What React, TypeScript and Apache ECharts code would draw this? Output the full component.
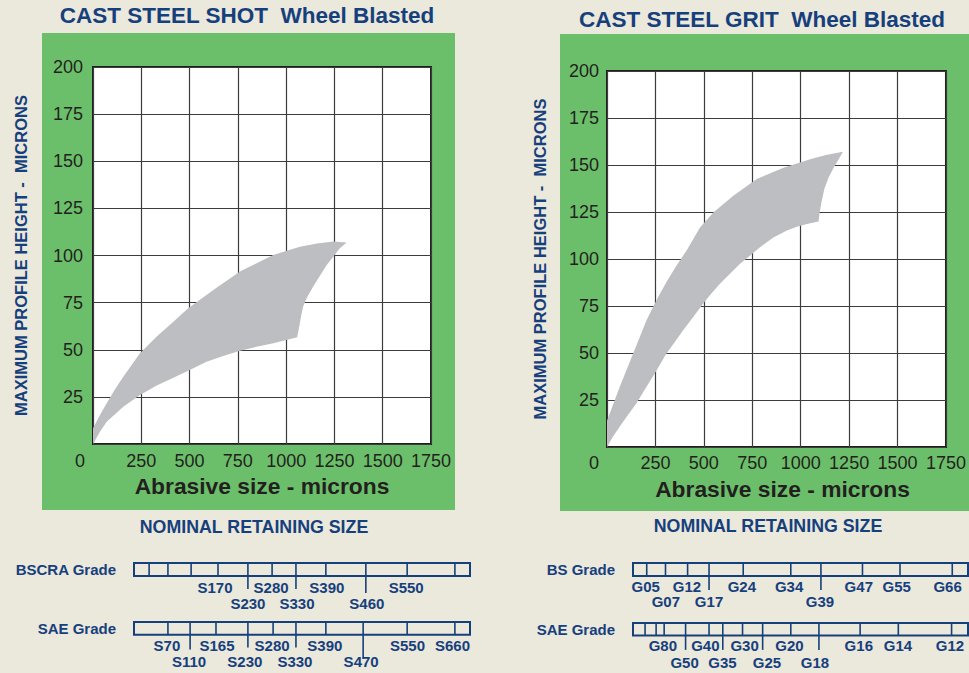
import React, { useEffect, useRef } from 'react';
import * as echarts from 'echarts';

// ---------- colours / fonts ----------
const BLUE = '#16407c';
const GREEN = '#6cbf6a';
const BEIGE = '#ebe8dc';
const AREA = '#bdbec2';
const INK = '#231f20';
const NARROW = '"Liberation Sans Narrow", "Liberation Sans", Arial, sans-serif';
const SANS = '"Liberation Sans", Arial, Helvetica, sans-serif';

// ---------- axis data ----------
const xMin = 0;
const xMax = 1750;
const xStep = 250;
const yMin = 0;
const yMax = 200;
const yStep = 25;

// ---------- cast steel shot envelope (abrasive size µm, profile height µm) ----------
const shotUpper = [
  [0, 0], [0, 8.3], [36, 15.4], [71, 21.6], [114, 29], [157, 35.7], [243, 48.1], [330, 57],
  [416, 64.9], [493, 72], [623, 81.7], [761, 91.5], [847, 95.9], [933, 100.3], [1071, 104.7],
  [1160, 106.3], [1244, 107.4], [1313, 106.9],
];
const shotRightEdge = [
  [1278, 103.9], [1244, 99.4], [1210, 95], [1175, 89.3], [1140, 83.5], [1106, 77.3],
  [1088, 72.9], [1077, 67.6], [1068, 62.3], [1057, 56.6],
];
const shotLower = [
  [933, 53.4], [847, 51.6], [761, 49.5], [674, 46.7], [588, 43.7], [493, 38.9], [416, 35.2],
  [330, 31], [243, 26], [157, 19.8], [71, 11.8], [36, 6.5],
];

// ---------- cast steel grit envelope ----------
const gritUpper = [
  [0, 0], [0, 14], [66, 32.1], [135, 49.8], [204, 67.4], [264, 79.8], [307, 87.7], [359, 96.6],
  [411, 104.5], [480, 116.8], [549, 124.8], [652, 133.6], [773, 142.5], [911, 148.6],
  [1049, 153], [1130, 155.3], [1218, 157.1],
];
const gritRightEdge = [
  [1196, 153.1], [1170, 148.6], [1144, 143.3], [1122, 137.2], [1107, 130.1], [1098, 124.8],
  [1092, 120],
];
const gritLower = [
  [1032, 118.6], [980, 117.2], [929, 115.1], [859, 111.5], [790, 106.3], [739, 101.9],
  [687, 97.5], [635, 92.2], [583, 86.9], [531, 80.7], [497, 76.3], [445, 69.2], [393, 62.1],
  [350, 55.9], [307, 49.8], [247, 39.2], [204, 32.1], [152, 23.3], [109, 17.1], [66, 10.9],
  [31, 5.6],
];

// ---------- grade scales (position along bar, 0-100) ----------
const bscraDividers = [4.5, 10.1, 17, 25, 33.9, 41.1, 48.2, 57.1, 69, 81.3, 95.5];
const bscraLongTicks = [[33.9, -1.0], [48.2, -1.0], [69, -1.3]];
const bscraLabels: [string, number, number][] = [
  ['S170', 24.1, -0.85], ['S280', 40.8, -0.85], ['S390', 57.4, -0.85], ['S550', 81, -0.85],
  ['S230', 33.9, -2.15], ['S330', 48.5, -2.15], ['S460', 69.3, -2.15],
];

const saeShotDividers = [10.1, 16.7, 24.4, 33.9, 41.4, 48.2, 57.1, 68.2, 81.3, 95.5];
const saeShotLongTicks = [[16.7, -1.15], [33.9, -1.0], [48.2, -1.0], [68.2, -1.9]];
const saeShotLabels: [string, number, number][] = [
  ['S70', 9.8, -0.82], ['S165', 24.7, -0.82], ['S280', 41.1, -0.82], ['S390', 56.8, -0.82],
  ['S550', 81.4, -0.82], ['S660', 94.8, -0.82],
  ['S110', 16.4, -2.13], ['S230', 33, -2.13], ['S330', 47.9, -2.13], ['S470', 67.6, -2.13],
];

const bsGritDividers = [4.1, 9.7, 16.3, 22.7, 32.9, 47.1, 56.1, 68.5, 79.7, 95.3];
const bsGritLongTicks = [[22.7, -1.08], [56.1, -1.08]];
const bsGritLabels: [string, number, number][] = [
  ['G05', 3.8, -0.77], ['G12', 16.1, -0.77], ['G24', 32.5, -0.77], ['G34', 46.6, -0.77],
  ['G47', 67.4, -0.77], ['G55', 78.7, -0.77], ['G66', 93.9, -0.77],
  ['G07', 9.8, -1.98], ['G17', 22.7, -1.98], ['G39', 55.8, -1.98],
];

const saeGritDividers = [3.6, 6.9, 9.3, 15.7, 22.7, 26.8, 32.7, 38.7, 47.1, 55.5, 67.8, 79.2, 95.1];
const saeGritLongTicks = [[15.7, -1.15], [26.8, -1.15], [38.7, -1.15], [55.5, -1.15]];
const saeGritLabels: [string, number, number][] = [
  ['G80', 8.9, -0.82], ['G40', 21.6, -0.82], ['G30', 33.3, -0.82], ['G20', 46.7, -0.82],
  ['G16', 67.4, -0.82], ['G14', 79.1, -0.82], ['G12', 94.6, -0.82],
  ['G50', 15.4, -2.18], ['G35', 26.7, -2.18], ['G25', 40, -2.18], ['G18', 54.3, -2.18],
];

// ---------- builders ----------
function envelopeSeries(gi: number, upper: number[][], edge: number[][], lower: number[][]) {
  const pts = [...upper, ...edge, ...lower];
  return {
    type: 'custom',
    xAxisIndex: gi,
    yAxisIndex: gi,
    data: [0],
    silent: true,
    z: 3,
    renderItem: (_params: any, api: any) => ({
      type: 'polygon',
      shape: { points: pts.map((p) => api.coord(p)) },
      style: { fill: AREA, stroke: 'none' },
    }),
  };
}

function gradeSeries(
  gi: number,
  name: string,
  dividers: number[],
  longTicks: number[][],
  labels: [string, number, number][],
) {
  return {
    type: 'custom',
    xAxisIndex: gi,
    yAxisIndex: gi,
    data: [0],
    silent: true,
    renderItem: (_params: any, api: any) => {
      const c = (x: number, y: number) => api.coord([x, y]);
      const children: any[] = [];
      const tl = c(0, 1);
      const br = c(100, 0);
      children.push({
        type: 'rect',
        shape: { x: tl[0], y: tl[1], width: br[0] - tl[0], height: br[1] - tl[1] },
        style: { fill: 'none', stroke: BLUE, lineWidth: 2 },
      });
      dividers.forEach((d) => {
        const a = c(d, 1);
        const b = c(d, 0);
        children.push({
          type: 'line',
          shape: { x1: a[0], y1: a[1], x2: b[0], y2: b[1] },
          style: { stroke: BLUE, lineWidth: 1.6 },
        });
      });
      longTicks.forEach(([d, len]) => {
        const a = c(d, 0);
        const b = c(d, len);
        children.push({
          type: 'line',
          shape: { x1: a[0], y1: a[1], x2: b[0], y2: b[1] },
          style: { stroke: BLUE, lineWidth: 1.6 },
        });
      });
      labels.forEach(([t, x, y]) => {
        const p = c(x, y);
        children.push({
          type: 'text',
          x: p[0],
          y: p[1],
          style: {
            text: t, fill: BLUE, font: `bold 15px ${SANS}`,
            textAlign: 'center', textVerticalAlign: 'middle', align: 'center', verticalAlign: 'middle',
          },
        });
      });
      const lp = c(0, 0.5);
      children.push({
        type: 'text',
        x: lp[0] - 18,
        y: lp[1],
        style: {
          text: name, fill: BLUE, font: `bold 15px ${SANS}`,
          textAlign: 'right', textVerticalAlign: 'middle', align: 'right', verticalAlign: 'middle',
        },
      });
      return { type: 'group', children };
    },
  };
}

function mainXAxis(gi: number, labelMargin: number, namePadLeft: number) {
  return {
    gridIndex: gi,
    type: 'value',
    min: xMin,
    max: xMax,
    interval: xStep,
    name: 'Abrasive size - microns',
    nameLocation: 'middle',
    nameGap: 30,
    nameTextStyle: {
      color: INK, fontSize: 22.8, fontWeight: 'bold', fontFamily: SANS,
      padding: [0, 0, 0, namePadLeft],
    },
    axisLine: { show: false },
    axisTick: { show: false },
    splitLine: { show: true, lineStyle: { color: '#3c3c3c', width: 1.2 } },
    axisLabel: {
      margin: labelMargin,
      color: INK,
      fontSize: 18,
      fontFamily: NARROW,
      formatter: (v: number) => (v === 0 ? '{z|0}' : String(v)),
      rich: { z: { padding: [0, 26, 0, 0], fontSize: 18, fontFamily: NARROW, color: INK } },
    },
  };
}

function mainYAxis(gi: number, labelMargin: number, nameGap: number) {
  return {
    gridIndex: gi,
    type: 'value',
    min: yMin,
    max: yMax,
    interval: yStep,
    name: 'MAXIMUM PROFILE HEIGHT -  MICRONS',
    nameLocation: 'middle',
    nameRotate: 90,
    nameGap,
    nameTextStyle: { color: BLUE, fontSize: 16.5, fontWeight: 'bold', fontFamily: SANS },
    axisLine: { show: false },
    axisTick: { show: false },
    splitLine: { show: true, lineStyle: { color: '#3c3c3c', width: 1.2 } },
    axisLabel: {
      margin: labelMargin,
      color: INK,
      fontSize: 18,
      fontFamily: NARROW,
      formatter: (v: number) => (v === 0 ? '' : String(v)),
    },
  };
}

function hiddenX(gi: number) {
  return { gridIndex: gi, type: 'value', min: 0, max: 100, show: false };
}
function hiddenY(gi: number) {
  return { gridIndex: gi, type: 'value', min: -3, max: 1, show: false };
}

function textEl(text: string, x: number, y: number, font: string, fill: string) {
  return {
    type: 'text',
    x,
    y,
    style: { text, font, fill, textAlign: 'center', textVerticalAlign: 'middle' },
  };
}

export default function App() {
  const ref = useRef<HTMLDivElement>(null);

  useEffect(() => {
    if (!ref.current) return;
    const chart = echarts.init(ref.current, undefined, { renderer: 'svg' });
    const plotGrid = { show: true, backgroundColor: '#ffffff', borderColor: '#1e1e1e', borderWidth: 2 };
    chart.setOption({
      animation: false,
      backgroundColor: BEIGE,
      grid: [
        { ...plotGrid, left: 93, top: 67, width: 338, height: 377 },
        { ...plotGrid, left: 607, top: 71, width: 339, height: 376 },
        { left: 134, top: 563, width: 336, height: 52 },
        { left: 134, top: 622, width: 336, height: 52 },
        { left: 633, top: 563, width: 335, height: 52 },
        { left: 633, top: 623, width: 335, height: 52 },
      ],
      xAxis: [
        mainXAxis(0, 8, 0),
        mainXAxis(1, 7, 12),
        hiddenX(2), hiddenX(3), hiddenX(4), hiddenX(5),
      ],
      yAxis: [
        mainYAxis(0, 10, 64),
        mainYAxis(1, 8, 59),
        hiddenY(2), hiddenY(3), hiddenY(4), hiddenY(5),
      ],
      graphic: [
        { type: 'rect', z: -10, shape: { x: 42, y: 33, width: 413, height: 477 }, style: { fill: GREEN } },
        { type: 'rect', z: -10, shape: { x: 560, y: 34, width: 420, height: 477 }, style: { fill: GREEN } },
        textEl('CAST STEEL SHOT  Wheel Blasted', 247, 15, `bold 22.5px ${SANS}`, BLUE),
        textEl('CAST STEEL GRIT  Wheel Blasted', 762, 19.5, `bold 22.5px ${SANS}`, BLUE),
        textEl('NOMINAL RETAINING SIZE', 254, 527, `bold 17.8px ${SANS}`, BLUE),
        textEl('NOMINAL RETAINING SIZE', 768, 526, `bold 17.8px ${SANS}`, BLUE),
      ],
      series: [
        envelopeSeries(0, shotUpper, shotRightEdge, shotLower),
        envelopeSeries(1, gritUpper, gritRightEdge, gritLower),
        gradeSeries(2, 'BSCRA Grade', bscraDividers, bscraLongTicks, bscraLabels),
        gradeSeries(3, 'SAE Grade', saeShotDividers, saeShotLongTicks, saeShotLabels),
        gradeSeries(4, 'BS Grade', bsGritDividers, bsGritLongTicks, bsGritLabels),
        gradeSeries(5, 'SAE Grade', saeGritDividers, saeGritLongTicks, saeGritLabels),
      ],
    });
    return () => chart.dispose();
  }, []);

  return (
    <div
      ref={ref}
      style={{ position: 'fixed', left: 0, top: 0, width: 969, height: 673, background: BEIGE }}
    />
  );
}
